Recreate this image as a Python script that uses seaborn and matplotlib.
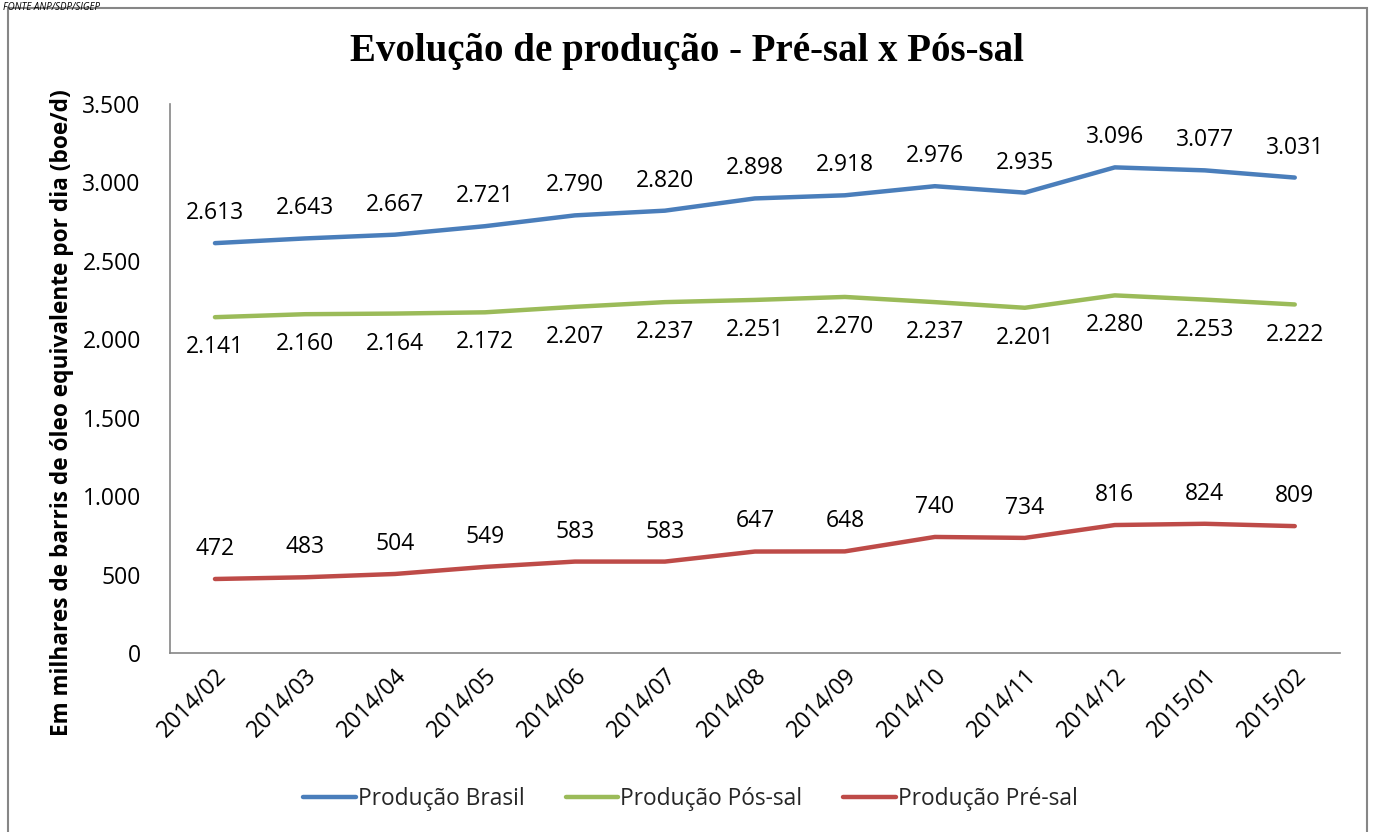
import matplotlib
matplotlib.use("Agg")
import matplotlib.pyplot as plt
from matplotlib.patches import Rectangle
from matplotlib.ticker import FuncFormatter
import seaborn as sns
import pandas as pd

months = ["2014/02", "2014/03", "2014/04", "2014/05", "2014/06", "2014/07", "2014/08",
          "2014/09", "2014/10", "2014/11", "2014/12", "2015/01", "2015/02"]
brasil = [2613, 2643, 2667, 2721, 2790, 2820, 2898, 2918, 2976, 2935, 3096, 3077, 3031]
pos_sal = [2141, 2160, 2164, 2172, 2207, 2237, 2251, 2270, 2237, 2201, 2280, 2253, 2222]
pre_sal = [472, 483, 504, 549, 583, 583, 647, 648, 740, 734, 816, 824, 809]
series_names = ["Produção Brasil", "Produção Pós-sal", "Produção Pré-sal"]
colors = ["#4A7EBB", "#9BBB59", "#BE4B48"]


def fmt_br(v):
    return f"{int(round(v)):,}".replace(",", ".")


df = pd.concat([
    pd.DataFrame({"idx": range(len(months)), "valor": vals, "serie": name})
    for name, vals in zip(series_names, [brasil, pos_sal, pre_sal])
])

sns.set_theme(style="white")
plt.rcParams["font.family"] = ["Open Sans", "DejaVu Sans"]

fig = plt.figure(figsize=(13.73, 8.32), dpi=100)
ax = fig.add_axes([0.1238, 0.2151, 0.852, 0.6599])

sns.lineplot(data=df, x="idx", y="valor", hue="serie", hue_order=series_names,
             palette=colors, linewidth=3.2, ax=ax, legend=False, solid_capstyle="round")

# data labels
for vals, dy, va in [(brasil, 13, "bottom"), (pos_sal, -13, "top"), (pre_sal, 13, "bottom")]:
    for i, v in enumerate(vals):
        ax.annotate(fmt_br(v), (i, v), xytext=(0, dy), textcoords="offset points",
                    ha="center", va=va, fontsize=16.5, color="black")

ax.set_xlim(-0.5, len(months) - 0.5)
ax.set_ylim(0, 3500)
ax.set_yticks(range(0, 3501, 500))
ax.yaxis.set_major_formatter(FuncFormatter(lambda v, p: fmt_br(v)))
ax.set_xticks(range(len(months)))
ax.set_xticklabels(months, rotation=45, ha="right", rotation_mode="anchor", fontsize=16.5,
                   color="black")
ax.tick_params(axis="y", labelsize=16.5, length=0, pad=21, labelcolor="black")
ax.tick_params(axis="x", length=0, pad=8)
ax.set_xlabel("")
ax.set_ylabel("Em milhares de barris de óleo equivalente por dia (boe/d)",
              fontsize=16.3, fontweight="bold", color="black", va="center")
ax.yaxis.set_label_coords(-0.0923, 0.437)
for side in ["top", "right"]:
    ax.spines[side].set_visible(False)
for side in ["left", "bottom"]:
    ax.spines[side].set_color("#868686")
    ax.spines[side].set_linewidth(1.2)

fig.text(0.5, 0.938, "Evolução de produção - Pré-sal x Pós-sal", ha="center", va="center",
         fontsize=28, fontweight="bold", color="black",
         family=["Liberation Serif", "DejaVu Serif"])
fig.text(0.002, 0.998, "FONTE ANP/SDP/SIGEP", ha="left", va="top", fontsize=7,
         style="italic", color="black")

# legend
handles = [plt.Line2D([0], [0], color=c, lw=3.2, solid_capstyle="round") for c in colors]
fig.legend(handles, series_names, loc="center", bbox_to_anchor=(0.503, 0.04), ncol=3,
           frameon=False, fontsize=16.4, handlelength=2.3, handletextpad=0.1,
           columnspacing=1.8)

fig.patches.append(Rectangle((8 / 1373, -0.01), 1359 / 1373, 1 - 8 / 832 + 0.01,
                             transform=fig.transFigure, fill=False, edgecolor="#868686",
                             linewidth=1.5))

fig.savefig("out.png", dpi=100)
